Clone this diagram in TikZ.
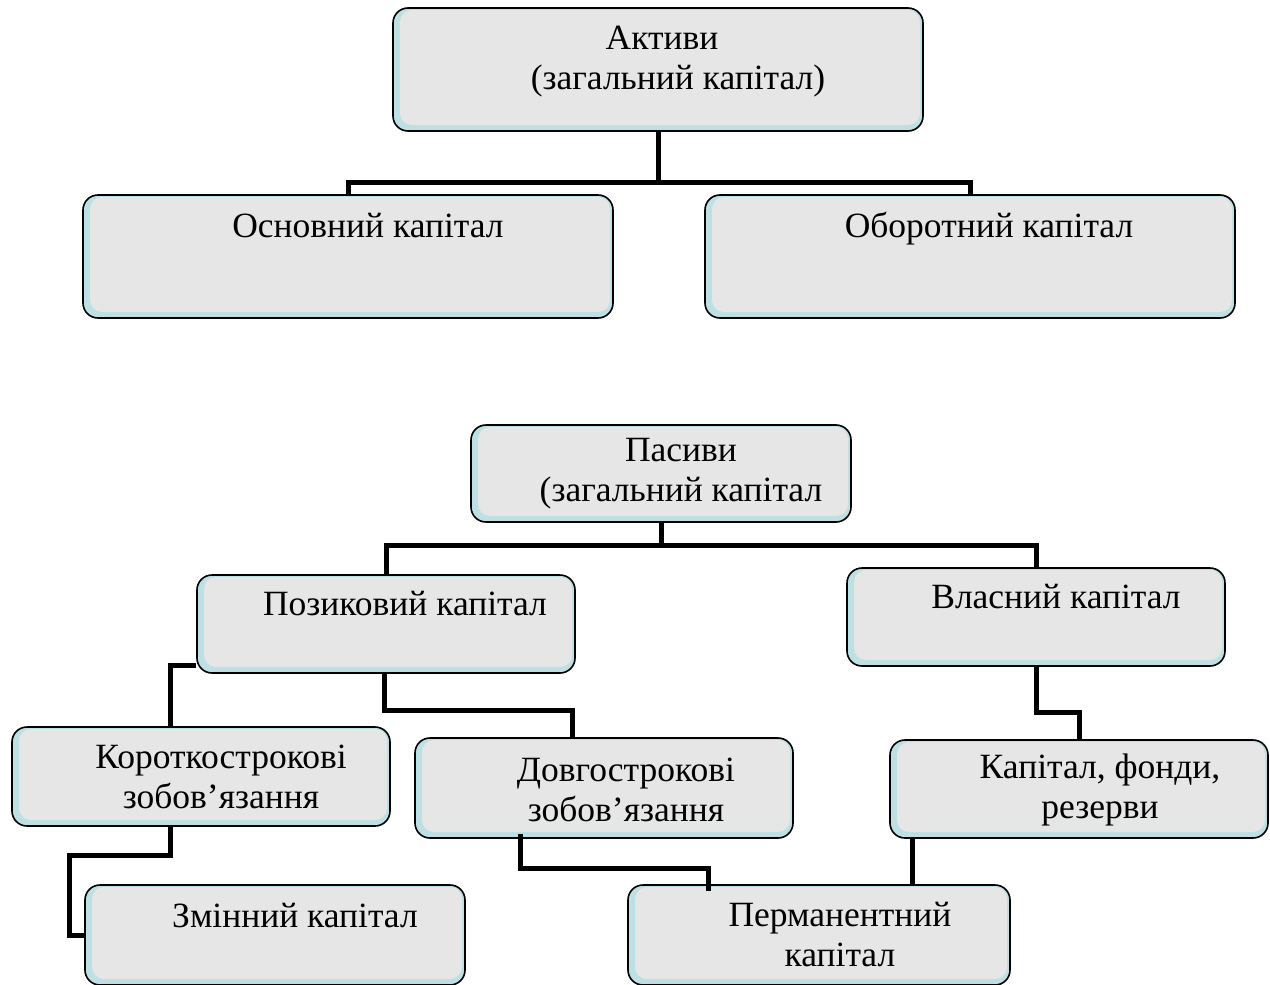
\documentclass[tikz,border=0pt]{standalone}
\usepackage{fontspec}
\setmainfont{Liberation Serif}
\usetikzlibrary{calc}
\definecolor{boxgray}{HTML}{E6E6E6}
\definecolor{boxblue}{HTML}{BCE0E4}
\begin{document}
\begin{tikzpicture}[x=1pt,y=-1pt,
  box/.style={draw=black, line width=1.6pt, fill=boxblue, rounded corners=15pt, inner sep=0pt,
    path picture={\fill[boxgray, rounded corners=12pt]
      ([xshift=7pt,yshift=6pt]path picture bounding box.south west) rectangle
      ([xshift=-3pt,yshift=-2pt]path picture bounding box.north east);}},
  txt/.style={font=\fontsize{35.5}{40}\selectfont, align=center, inner sep=0pt},
  conn/.style={line width=5pt}]
\useasboundingbox (0,0) rectangle (1270,985);
% boxes
\node[box, minimum width=530pt, minimum height=123pt] (akt) at (658,69.5) {};
\node[box, minimum width=530pt, minimum height=123pt] (osn) at (348,256.5) {};
\node[box, minimum width=530pt, minimum height=123pt] (obo) at (970,256.5) {};
\node[box, minimum width=380pt, minimum height=97pt] (pas) at (661,473.5) {};
\node[box, minimum width=378pt, minimum height=98pt] (poz) at (386,624) {};
\node[box, minimum width=378pt, minimum height=98pt] (vla) at (1036,617) {};
\node[box, minimum width=378pt, minimum height=99pt] (kor) at (201,776.5) {};
\node[box, minimum width=378pt, minimum height=100pt] (dov) at (604,788) {};
\node[box, minimum width=378pt, minimum height=98pt] (kap) at (1079,789) {};
\node[box, minimum width=380pt, minimum height=100pt] (zmi) at (275,935) {};
\node[box, minimum width=382pt, minimum height=100pt] (per) at (819,935) {};
% texts
\node[txt] (takt) at (662,62) {Активи\\\hspace*{32pt}(загальний капітал)};
\node[txt, anchor=base] (tosn) at (368,237) {Основний капітал};
\node[txt, anchor=base] (tobo) at (989,237) {Оборотний капітал};
\node[txt] (tpas) at (681,474) {Пасиви\\(загальний капітал};
\node[txt, anchor=base] (tpoz) at (405,615) {Позиковий капітал};
\node[txt, anchor=base] (tvla) at (1056,608) {Власний капітал};
\node[txt] (tkor) at (221,777) {Короткострокові\\зобов’язання};
\node[txt] (tdov) at (626,790) {Довгострокові\\зобов’язання};
\node[txt] (tkap) at (1100,790) {Капітал, фонди,\\резерви};
\node[txt, anchor=base] (tzmi) at (295,927) {Змінний капітал};
\node[txt] (tper) at (840,935) {Перманентний\\капітал};
% connectors
\draw[conn] (akt.south) -- ++(0,51) coordinate (aj);
\draw[conn] (osn.north) |- (aj) -| (obo.north);
\draw[conn] (pas.south) -- ++(0,23) coordinate (pj);
\draw[conn] (poz.north) |- (pj) -| (vla.north);
\draw[conn] ($(poz.south west)+(0,-8)$) -| ($(kor.north)+(-31,0)$);
\draw[conn] ($(poz.south)+(-2,0)$) -- ++(0,37) -| ($(dov.north)+(-32,0)$);
\draw[conn] (vla.south) -- ++(0,46) -| (kap.north);
\coordinate (kp) at ($(kap.south)+(-167,0)$);
\draw[conn] (kp) -- (kp |- per.north);
\draw[conn] ($(kor.south)+(-31,0)$) -- ++(0,29) -| ($(zmi.west)+(-15,0)$) -- (zmi.west);
\draw[conn] ($(dov.south)+(-84,-5)$) -- ++(0,35) -| ($(per.north)+(-111,7)$);
\end{tikzpicture}
\end{document}
